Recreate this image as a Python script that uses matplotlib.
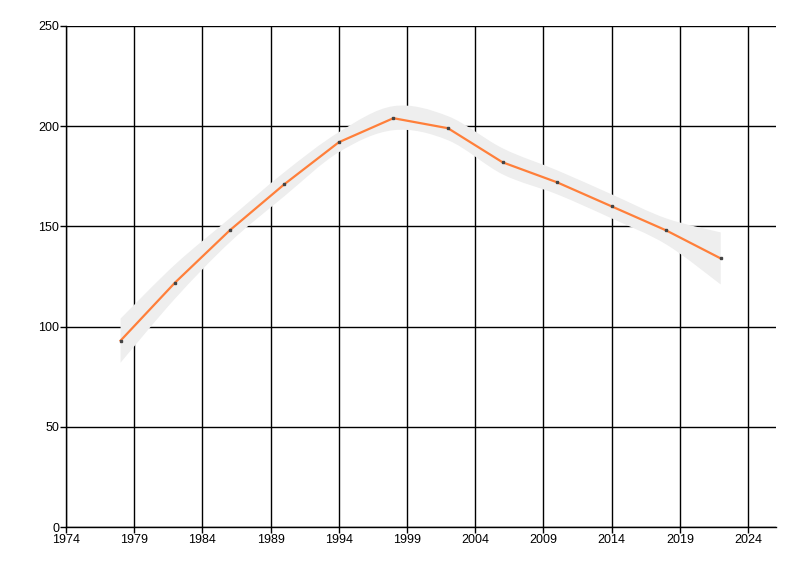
import numpy as np
import matplotlib
matplotlib.use('Agg')
import matplotlib.pyplot as plt
from matplotlib.path import Path
from matplotlib.patches import PathPatch

# values
years = [1978, 1982, 1986, 1990, 1994, 1998, 2002, 2006, 2010, 2014, 2018, 2022]
values = [93, 122, 148, 171, 192, 204, 199, 182, 172, 160, 148, 134]
band_upper = [104, 131, 154, 177, 197, 210, 205, 189, 178, 166, 154, 147]
band_lower = [82, 114, 142, 165, 187, 198, 193, 176, 166, 154, 141, 121]
x_ticks = [1974, 1979, 1984, 1989, 1994, 1999, 2004, 2009, 2014, 2019, 2024]
y_ticks = [0, 50, 100, 150, 200, 250]


def smooth_verts(xs, ys):
    # Catmull-Rom through the points, written as cubic bezier segments
    xs = np.asarray(xs, float)
    ys = np.asarray(ys, float)
    pts = np.column_stack([xs, ys])
    verts = [pts[0]]
    codes = []
    for i in range(len(pts) - 1):
        p0 = pts[i - 1] if i > 0 else pts[i]
        p1 = pts[i]
        p2 = pts[i + 1]
        p3 = pts[i + 2] if i + 2 < len(pts) else pts[i + 1]
        c1 = p1 + (p2 - p0) / 6.0
        c2 = p2 - (p3 - p1) / 6.0
        verts += [c1, c2, p2]
        codes += [Path.CURVE4] * 3
    return verts, codes


plt.rcParams['font.family'] = ['Liberation Sans', 'DejaVu Sans']
fig = plt.figure(figsize=(8, 5.76), dpi=100)
ax = fig.add_axes([66 / 800, 1 - 527 / 576, 710 / 800, 501 / 576])

ax.set_xlim(1974, 2026.05)
ax.set_ylim(0, 250)
ax.set_xticks(x_ticks)
ax.set_yticks(y_ticks)
ax.grid(True, color='black', linewidth=1.0)
ax.set_axisbelow(True)
for s in ['top', 'right']:
    ax.spines[s].set_visible(False)
for s in ['left', 'bottom']:
    ax.spines[s].set_linewidth(1.0)
ax.tick_params(direction='out', length=4, width=1.0, labelsize=9, pad=1)

# confidence band
uv, uc = smooth_verts(years, band_upper)
lv, lc = smooth_verts(years[::-1], band_lower[::-1])
verts = uv + [lv[0]] + lv[1:] + [uv[0]]
codes = [Path.MOVETO] + uc + [Path.LINETO] + lc + [Path.CLOSEPOLY]
band = PathPatch(Path(verts, codes), facecolor='#eeeeee', edgecolor='none', zorder=2)
ax.add_patch(band)

ax.plot(years, values, color='#ff7f3a', linewidth=1.6, zorder=3)
ax.plot(years, values, linestyle='none', marker='s', markersize=2,
        color='#444444', zorder=4)

fig.savefig('out.png', dpi=100)
